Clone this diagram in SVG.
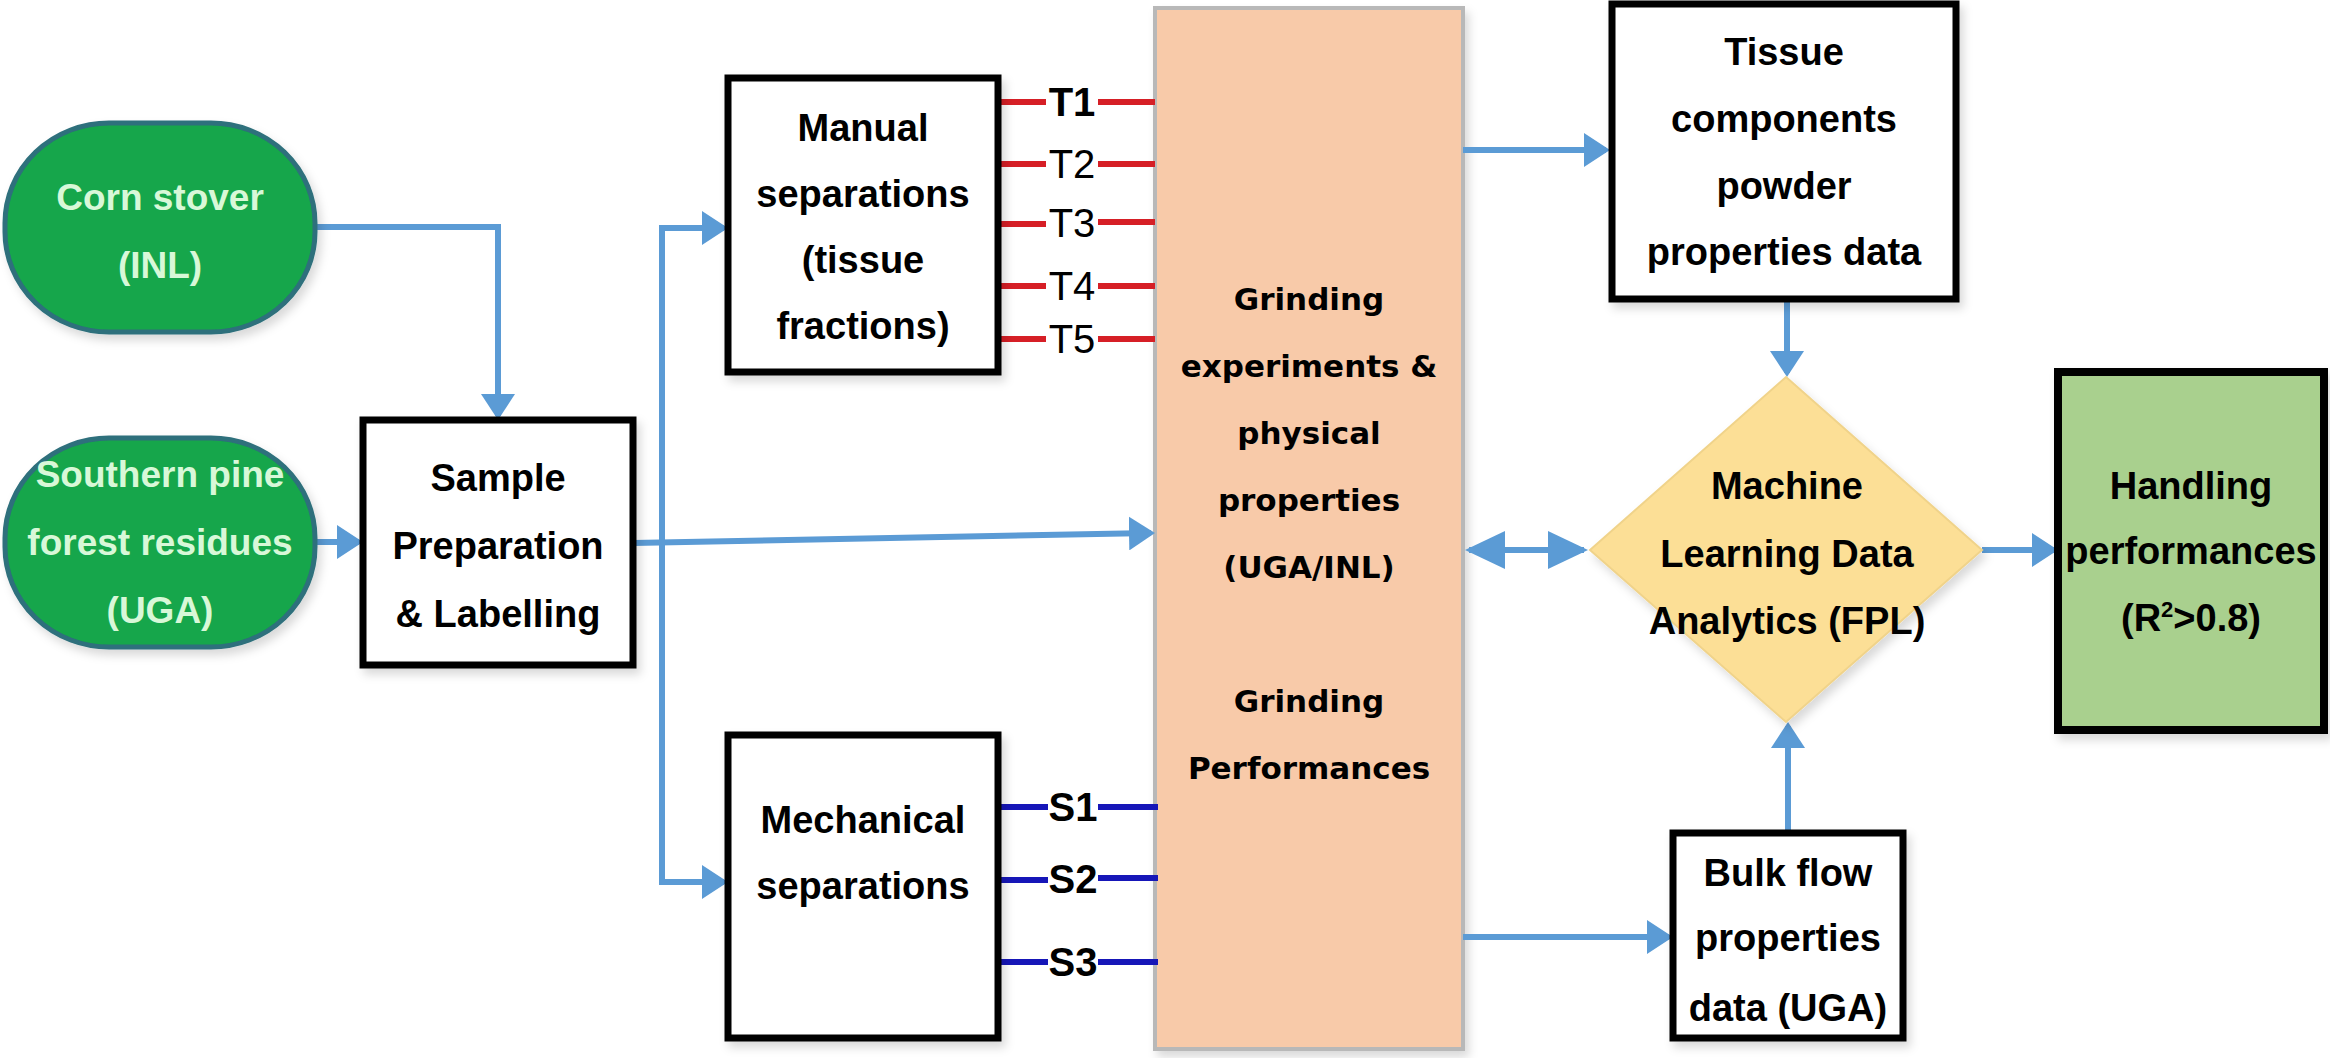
<svg xmlns="http://www.w3.org/2000/svg" width="2330" height="1058" viewBox="0 0 2330 1058">
<style>
.box{fill:#ffffff;stroke:#000000;stroke-width:7}
.pill{fill:#13a64b;stroke:#2e6f7b;stroke-width:5}
.lbl{font-family:"Liberation Sans",Arial,sans-serif;font-weight:bold;font-size:38px;fill:#000;text-anchor:middle}
.pt{font-family:"Liberation Sans",Arial,sans-serif;font-weight:bold;font-size:37px;fill:#d8f8d8;text-anchor:middle}
.gt{font-family:"DejaVu Sans",Verdana,sans-serif;font-weight:bold;font-size:31px;fill:#000;text-anchor:middle}
.tl{font-family:"Liberation Sans",Arial,sans-serif;font-size:40px;fill:#000;text-anchor:middle}
.con{fill:none;stroke:#5b9bd5;stroke-width:6}
.red{stroke:#d61f26;stroke-width:6}
.blu{stroke:#1616b8;stroke-width:6}
</style>
<defs>
<marker id="ah" viewBox="0 0 26 34" refX="22" refY="17" markerWidth="26" markerHeight="34" markerUnits="userSpaceOnUse" orient="auto"><path d="M0,0L26,17L0,34z" fill="#5b9bd5"/></marker>
<marker id="ahb" viewBox="0 0 40 38" refX="36" refY="19" markerWidth="40" markerHeight="38" markerUnits="userSpaceOnUse" orient="auto-start-reverse"><path d="M0,0L40,19L0,38z" fill="#5b9bd5"/></marker>
<filter id="sh" x="-10%" y="-10%" width="125%" height="125%"><feDropShadow dx="4" dy="6" stdDeviation="5" flood-color="#000" flood-opacity="0.15"/></filter>
</defs>

<g id="grinding">
<rect x="1155" y="8" width="308" height="1041" fill="#f8caa9" stroke="#b8b8b8" stroke-width="4" filter="url(#sh)"/>
<text class="gt" x="1309" y="310">Grinding</text>
<text class="gt" x="1309" y="377">experiments &amp;</text>
<text class="gt" x="1309" y="444">physical</text>
<text class="gt" x="1309" y="511">properties</text>
<text class="gt" x="1309" y="578">(UGA/INL)</text>
<text class="gt" x="1309" y="712">Grinding</text>
<text class="gt" x="1309" y="779">Performances</text>
</g>

<g id="connectors">
<path class="con" d="M315,227H498V416" marker-end="url(#ah)"/>
<path class="con" d="M315,542H359" marker-end="url(#ah)"/>
<path class="con" d="M633,543L1151,533" marker-end="url(#ah)"/>
<path class="con" d="M662,555V228H724" marker-end="url(#ah)"/>
<path class="con" d="M662,555V882H724" marker-end="url(#ah)"/>
<path class="con" d="M1463,150H1606" marker-end="url(#ah)"/>
<path class="con" d="M1787,299V373" marker-end="url(#ah)"/>
<path class="con" d="M1469,550H1584" stroke-width="8" marker-start="url(#ahb)" marker-end="url(#ahb)"/>
<path class="con" d="M1982,550H2054" marker-end="url(#ah)"/>
<path class="con" d="M1463,937H1669" marker-end="url(#ah)"/>
<path class="con" d="M1788,833V726" marker-end="url(#ah)"/>
<g id="tissue-lines">
<path class="red" d="M998,102H1046M1098,102H1155"/>
<path class="red" d="M998,164H1046M1098,164H1155"/>
<path class="red" d="M998,224H1046M1098,222H1155"/>
<path class="red" d="M998,286H1046M1098,286H1155"/>
<path class="red" d="M998,339H1046M1098,339H1155"/>
</g>
<g id="sep-lines">
<path class="blu" d="M998,807H1048M1098,807H1158"/>
<path class="blu" d="M998,880H1048M1098,878H1158"/>
<path class="blu" d="M998,962H1048M1098,962H1158"/>
</g>
<text class="tl" x="1072" y="116" font-weight="bold">T1</text>
<text class="tl" x="1072" y="178">T2</text>
<text class="tl" x="1072" y="237">T3</text>
<text class="tl" x="1072" y="300">T4</text>
<text class="tl" x="1072" y="353">T5</text>
<text class="tl" x="1073" y="821" font-weight="bold">S1</text>
<text class="tl" x="1073" y="893" font-weight="bold">S2</text>
<text class="tl" x="1073" y="976" font-weight="bold">S3</text>
</g>

<g id="corn">
<rect class="pill" x="5" y="123" width="310" height="209" rx="104" ry="100" filter="url(#sh)"/>
<text class="pt" x="160" y="210">Corn stover</text>
<text class="pt" x="160" y="278">(INL)</text>
</g>

<g id="southern">
<rect class="pill" x="5" y="438" width="310" height="209" rx="104" ry="100" filter="url(#sh)"/>
<text class="pt" x="160" y="487">Southern pine</text>
<text class="pt" x="160" y="555">forest residues</text>
<text class="pt" x="160" y="623">(UGA)</text>
</g>

<g id="sample">
<rect class="box" x="363" y="420" width="270" height="245" filter="url(#sh)"/>
<text class="lbl" x="498" y="491">Sample</text>
<text class="lbl" x="498" y="559">Preparation</text>
<text class="lbl" x="498" y="627">&amp; Labelling</text>
</g>

<g id="manual">
<rect class="box" x="728" y="78" width="270" height="294" filter="url(#sh)"/>
<text class="lbl" x="863" y="141">Manual</text>
<text class="lbl" x="863" y="207">separations</text>
<text class="lbl" x="863" y="273">(tissue</text>
<text class="lbl" x="863" y="339">fractions)</text>
</g>

<g id="mechanical">
<rect class="box" x="728" y="735" width="270" height="303" filter="url(#sh)"/>
<text class="lbl" x="863" y="833">Mechanical</text>
<text class="lbl" x="863" y="899">separations</text>
</g>

<g id="tissue">
<rect class="box" x="1612" y="4" width="344" height="295" filter="url(#sh)"/>
<text class="lbl" x="1784" y="65">Tissue</text>
<text class="lbl" x="1784" y="132">components</text>
<text class="lbl" x="1784" y="199">powder</text>
<text class="lbl" x="1784" y="265">properties data</text>
</g>

<g id="ml">
<path d="M1786,377L1982,550L1786,722L1590,550z" fill="#fcdf96" stroke="#f0d38a" stroke-width="2" filter="url(#sh)"/>
<text class="lbl" x="1787" y="499" font-size="36">Machine</text>
<text class="lbl" x="1787" y="567" font-size="36">Learning Data</text>
<text class="lbl" x="1787" y="634" font-size="36">Analytics (FPL)</text>
</g>

<g id="handling">
<rect x="2058" y="372" width="266" height="358" fill="#a9d08e" stroke="#000" stroke-width="8" filter="url(#sh)"/>
<text class="lbl" x="2191" y="499" font-size="36">Handling</text>
<text class="lbl" x="2191" y="564" font-size="36">performances</text>
<text class="lbl" x="2191" y="631" font-size="36">(R<tspan font-size="22" dy="-14">2</tspan><tspan dy="14">&gt;0.8)</tspan></text>
</g>

<g id="bulk">
<rect class="box" x="1673" y="833" width="230" height="205" filter="url(#sh)"/>
<text class="lbl" x="1788" y="886" font-size="37">Bulk flow</text>
<text class="lbl" x="1788" y="951" font-size="37">properties</text>
<text class="lbl" x="1788" y="1021" font-size="37">data (UGA)</text>
</g>
</svg>
